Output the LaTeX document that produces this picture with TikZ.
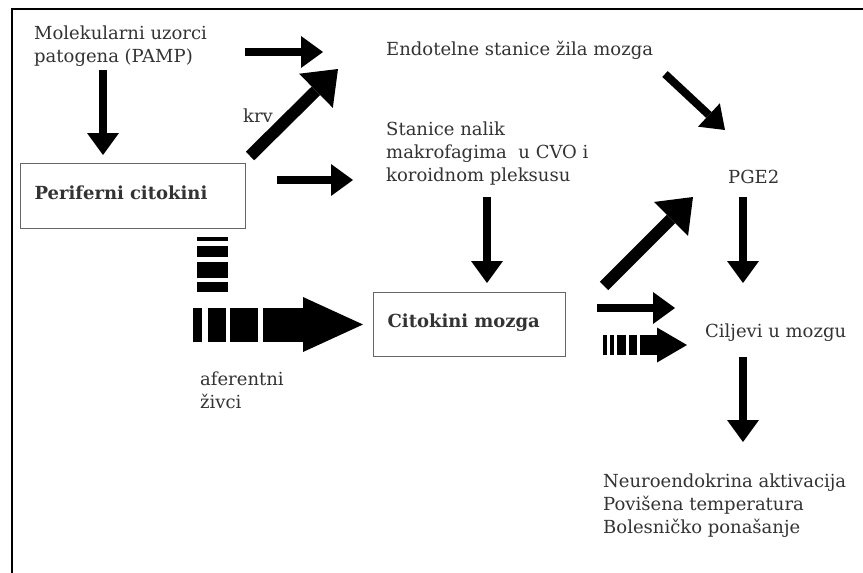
\documentclass[tikz,border=0pt]{standalone}
\usepackage{fontspec}
\setmainfont{DejaVu Serif}
\usetikzlibrary{arrows.meta}
\definecolor{txt}{HTML}{333333}
\definecolor{boxline}{HTML}{666666}
\begin{document}
\begin{tikzpicture}[x=1pt,y=-1pt,
  lbl/.style={anchor=base west, inner sep=0pt, align=left, text=txt, font=\fontsize{18}{23}\selectfont},
  box/.style={draw=boxline, line width=1.2pt, inner xsep=14pt, inner ysep=0pt, align=left, text=txt,
    font=\fontsize{18}{23}\selectfont\bfseries, text height=13.5pt, text depth=7pt, anchor=north west},
  arrA/.style={line width=8pt, -{Triangle[length=22pt,width=32pt,line width=0pt]}},
  arrB/.style={line width=12pt, -{Triangle[length=31pt,width=48pt,line width=0pt]}},
  stripe/.style={fill=black}
]
\useasboundingbox (0,0) rectangle (863,573);
\fill[white] (0,0) rectangle (863,573);
% frame
\draw[line width=2.4pt] (12,573) -- (12,9) -- (863,9);

% text nodes (base = baseline of the last line)
\node[lbl] (pamp) at (34,62) {Molekularni uzorci\\patogena (PAMP)};
\node[lbl] (endo) at (386,55) {Endotelne stanice žila mozga};
\node[lbl] (stan) at (386,181) {Stanice nalik\\makrofagima\hspace{0.33em} u CVO i\\koroidnom pleksusu};
\node[lbl] (pge) at (728,183) {PGE2};
\node[lbl] (krv) at (243,122) {krv};
\node[lbl] (afer) at (200,408) {aferentni\\živci};
\node[lbl] (cilj) at (705,337) {Ciljevi u mozgu};
\node[lbl] (out) at (603,533) {Neuroendokrina aktivacija\\Povišena temperatura\\Bolesničko ponašanje};

% boxes
\node[box, text width=197pt, minimum height=65pt] (per) at (20,163) {Periferni citokini};
\node[box, text width=164pt, minimum height=64pt] (cit) at (373,292) {Citokini mozga};

% arrow end points
\coordinate (a1s) at (103,70);  \coordinate (a1e) at (103,155);
\coordinate (a2s) at (245,52);  \coordinate (a2e) at (323,52);
\coordinate (a3s) at (250,156); \coordinate (a3e) at (338,69);
\coordinate (a4s) at (277,180); \coordinate (a4e) at (353,180);
\coordinate (a5s) at (665,74);  \coordinate (a5e) at (725,130);
\coordinate (a6s) at (487,197); \coordinate (a6e) at (487,283);
\coordinate (a7s) at (743,197); \coordinate (a7e) at (743,283);
\coordinate (a8s) at (604,286); \coordinate (a8e) at (693,197);
\coordinate (a9s) at (597,308); \coordinate (a9e) at (675,308);
\coordinate (a11s) at (743,357); \coordinate (a11e) at (743,442);
\coordinate (nbs) at (263,324.5); \coordinate (nbe) at (363,324.5);
\coordinate (nss) at (640,345); \coordinate (nse) at (687,345);

\draw[arrA] (a1s) -- (a1e);
\draw[arrA] (a2s) -- (a2e);
\draw[arrB] (a3s) -- (a3e);
\draw[arrA] (a4s) -- (a4e);
\draw[arrA] (a5s) -- (a5e);
\draw[arrA] (a6s) -- (a6e);
\draw[arrA] (a7s) -- (a7e);
\draw[arrB] (a8s) -- (a8e);
\draw[arrA] (a9s) -- (a9e);
\draw[arrA] (a11s) -- (a11e);

% afferent nerves: vertical stack of bars
\fill[stripe] (197,237) rectangle (228,241);
\fill[stripe] (197,246) rectangle (228,257);
\fill[stripe] (197,262) rectangle (228,278);
\fill[stripe] (197,282) rectangle (228,292);
% big striped arrow
\fill[stripe] (193,308) rectangle (202,342);
\fill[stripe] (208,308) rectangle (226,342);
\fill[stripe] (230,308) rectangle (258,342);
\draw[line width=34pt, -{Triangle[length=60pt,width=55pt,line width=0pt]}] (nbs) -- (nbe);
% small striped arrow
\fill[stripe] (603,335) rectangle (607,355);
\fill[stripe] (610,335) rectangle (614,355);
\fill[stripe] (617,335) rectangle (626,355);
\fill[stripe] (629,335) rectangle (637,355);
\draw[line width=20pt, -{Triangle[length=30pt,width=35pt,line width=0pt]}] (nss) -- (nse);
\end{tikzpicture}
\end{document}
